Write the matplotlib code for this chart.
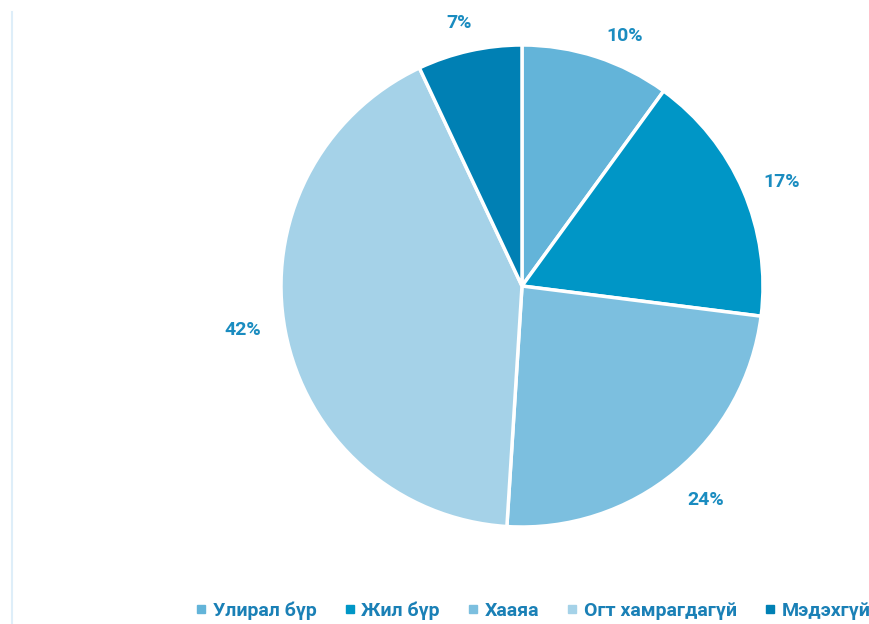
import matplotlib
matplotlib.use("Agg")
import matplotlib.pyplot as plt
from matplotlib.lines import Line2D

categories = ["Улирал бүр", "Жил бүр", "Хааяа", "Огт хамрагдагүй", "Мэдэхгүй"]
values = [10, 17, 24, 42, 7]
colors = ["#63b4d9", "#0096c6", "#7cbfdf", "#a5d2e8", "#0080b4"]

plt.rcParams['font.family'] = ['Roboto', 'DejaVu Sans']

W, H = 869, 624
fig = plt.figure(figsize=(W / 100, H / 100), dpi=100)
fig.patch.set_facecolor("white")

cx, cy, r = 522, 286, 241
ax = fig.add_axes([(cx - r) / W, (H - cy - r) / H, 2 * r / W, 2 * r / H])
wedges, texts, autotexts = ax.pie(
    values, colors=colors, startangle=90, counterclock=False,
    autopct=lambda p: f"{p:.0f}%", pctdistance=1.15,
    wedgeprops=dict(edgecolor="white", linewidth=2.5),
    textprops=dict(color="#1a8cc0", fontsize=14, fontweight="bold"))
# label placement (outside end, as in the reference)
label_pos = [(0.427, 1.037), (1.077, 0.432), (0.763, -0.888), (-1.158, -0.183), (-0.261, 1.091)]
for t, p in zip(autotexts, label_pos):
    t.set_position(p)
ax.set_xlim(-1, 1)
ax.set_ylim(-1, 1)
ax.set_aspect("equal")
ax.axis("off")

# faint left border line
fig.add_artist(Line2D([11.5 / W, 11.5 / W], [0, 1 - 12 / H], transform=fig.transFigure,
                      color="#deeef9", linewidth=1.5))

handles = [Line2D([0], [0], marker="s", linestyle="none", markersize=6,
                  markerfacecolor=c, markeredgecolor=c) for c in colors]
leg = fig.legend(handles, categories, loc="center", bbox_to_anchor=(531 / W, (H - 611) / H),
                 ncol=5, frameon=False, handletextpad=0.1, columnspacing=1.2,
                 handlelength=1.0, borderpad=0.0, borderaxespad=0.0,
                 prop=dict(size=14, weight="bold"))
for t in leg.get_texts():
    t.set_color("#1a80b6")

fig.savefig("out.png", dpi=100, facecolor="white")
